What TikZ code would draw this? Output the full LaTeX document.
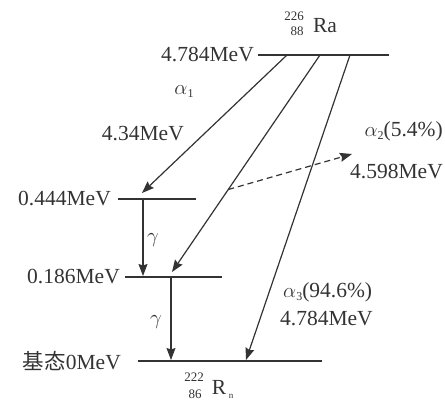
\documentclass[tikz,border=0pt]{standalone}
\usepackage{fontspec}
\setmainfont{Liberation Serif}
\newfontfamily\cjk{Noto Sans CJK SC}
\usetikzlibrary{arrows.meta,calc}
\begin{document}
\begin{tikzpicture}[x=1pt,y=-1pt,
  lvl/.style={line width=1.2pt},
  tr/.style={line width=1.2pt,-{Stealth[length=12pt,width=9pt,inset=1.5pt]}},
  lab/.style={inner sep=0pt,font=\fontsize{21.5}{25}\selectfont,text=black!80},
  small/.style={inner sep=0pt,font=\fontsize{13}{14}\selectfont,text=black!80},
  every node/.style={text=black!80}]
\useasboundingbox (0,0) rectangle (445,409);
% levels
\coordinate (tL) at (258,55); \coordinate (tR) at (389,55);
\coordinate (aL) at (118,199); \coordinate (aR) at (196,199);
\coordinate (bL) at (125,277); \coordinate (bR) at (222,277);
\coordinate (gL) at (138,361); \coordinate (gR) at (322,361);
\draw[lvl,black!80] (tL) -- (tR);
\draw[lvl,black!80] (aL) -- (aR);
\draw[lvl,black!80] (bL) -- (bR);
\draw[lvl,black!80] (gL) -- (gR);
% level labels
\node[lab,anchor=east] (l1) at (254,55) {4.784MeV};
\node[lab,anchor=east] (l2) at (111,199) {0.444MeV};
\node[lab,anchor=east] (l3) at (120,277) {0.186MeV};
\node[lab,anchor=east] (l4) at (121,361) {{\cjk 基态}0MeV};
% isotopes
\node[small] (ram) at (294,16) {226};
\node[small] (raz) at (297,31) {88};
\node[lab] (ra) at (325,26) {Ra};
\node[small] (rnm) at (194,377) {222};
\node[small] (rnz) at (195,394) {86};
\node[lab] (rn) at (219,387) {R};
\node[small,font=\fontsize{9}{10}\selectfont] (rnn) at (231,396) {n};
% transitions
\coordinate (s1) at (287,55); \coordinate (e1) at (142,193);
\coordinate (s2) at (320,55); \coordinate (e2) at (172,272);
\coordinate (s3) at (350,55); \coordinate (e3) at (246,360);
\draw[tr,black!80] (s1) -- (e1);
\draw[tr,black!80] (s2) -- (e2);
\draw[tr,black!80] (s3) -- (e3);
\coordinate (g1s) at (143,199); \coordinate (g1e) at (143,276);
\coordinate (g2s) at (171,277); \coordinate (g2e) at (171,360);
\draw[tr,black!80] (g1s) -- (g1e);
\draw[tr,black!80] (g2s) -- (g2e);
\coordinate (ds) at ($(s2)!0.62!(e2)$);
\coordinate (de) at (352,154);
\draw[tr,black!80,dashed,dash pattern=on 6pt off 4pt] (ds) -- (de);
% labels
\node[lab] (al1) at (184,92) {$\alpha$\raisebox{-3pt}{\fontsize{12}{13}\selectfont 1}};
\node[lab,anchor=east] (e434) at (184,134) {4.34MeV};
\node[lab,anchor=east] (al2) at (443,131) {$\alpha$\raisebox{-3pt}{\fontsize{12}{13}\selectfont 2}(5.4\%)};
\node[lab,anchor=east] (e4598) at (443,172) {4.598MeV};
\node[lab,anchor=west] (al3) at (283,292) {$\alpha$\raisebox{-3pt}{\fontsize{12}{13}\selectfont 3}(94.6\%)};
\node[lab,anchor=west] (e4784) at (280,319) {4.784MeV};
\node[lab] (gam1) at (153,240) {$\gamma$};
\node[lab] (gam2) at (156,322) {$\gamma$};
\end{tikzpicture}
\end{document}
